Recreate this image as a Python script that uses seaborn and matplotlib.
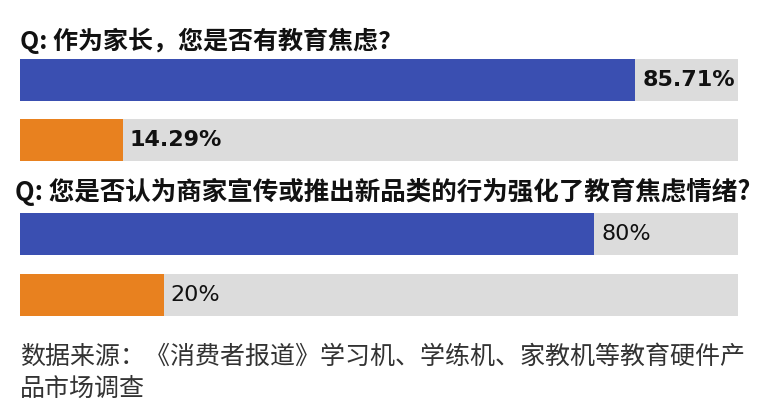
import matplotlib
matplotlib.use("Agg")
import matplotlib.pyplot as plt
import seaborn as sns
import pandas as pd

# 数据
questions = ["Q: 作为家长，您是否有教育焦虑?",
             "Q: 您是否认为商家宣传或推出新品类的行为强化了教育焦虑情绪?"]
answers = ["是", "否"]
q1_values = [85.71, 14.29]
q2_values = [80, 20]
q1_labels = ["85.71%", "14.29%"]
q2_labels = ["80%", "20%"]
source_lines = ["数据来源：《消费者报道》学习机、学练机、家教机等教育硬件产",
                "品市场调查"]

BLUE = "#3a4fb1"
ORANGE = "#e8811f"
GRAY = "#dcdcdc"

sns.set_style("white")
plt.rcParams["font.family"] = ["Noto Sans CJK SC", "DejaVu Sans"]

W, H = 771, 416
fig = plt.figure(figsize=(W / 100, H / 100), dpi=100)


def px_axes(x0, y0, x1, y1):
    return fig.add_axes([x0 / W, 1 - y1 / H, (x1 - x0) / W, (y1 - y0) / H])


def draw_block(ax, values, labels, bold):
    df = pd.DataFrame({"answer": answers, "value": values, "full": [100] * len(values)})
    sns.barplot(data=df, x="full", y="answer", color=GRAY, width=0.7,
                orient="h", ax=ax, saturation=1, linewidth=0, edgecolor="none")
    sns.barplot(data=df, x="value", y="answer", hue="answer",
                palette=[BLUE, ORANGE], width=0.7, orient="h", ax=ax,
                saturation=1, legend=False, linewidth=0, edgecolor="none")
    ax.set_xlim(0, 100)
    ax.set_ylim(1.35, -0.35)
    ax.axis("off")
    for i, (v, lab) in enumerate(zip(values, labels)):
        ax.annotate(lab, (v, i), xytext=(5, 0), textcoords="offset points",
                    va="center", ha="left", fontsize=16,
                    fontweight="bold" if bold else "medium",
                    family=["DejaVu Sans"], color="#111111")


ax1 = px_axes(20, 59, 738, 161)
draw_block(ax1, q1_values, q1_labels, True)
ax2 = px_axes(20, 213, 738, 316)
draw_block(ax2, q2_values, q2_labels, False)

fig.text(20 / W, 1 - 41 / H, questions[0], fontsize=18, fontweight="heavy",
         va="center", ha="left", color="#111111")
fig.text(15 / W, 1 - 192 / H, questions[1], fontsize=18.4, fontweight="heavy",
         va="center", ha="left", color="#111111")
fig.text(20 / W, 1 - 357 / H, source_lines[0], fontsize=18,
         va="center", ha="left", color="#333333")
fig.text(20 / W, 1 - 389 / H, source_lines[1], fontsize=18,
         va="center", ha="left", color="#333333")

fig.savefig("out.png", dpi=100, facecolor="white")
